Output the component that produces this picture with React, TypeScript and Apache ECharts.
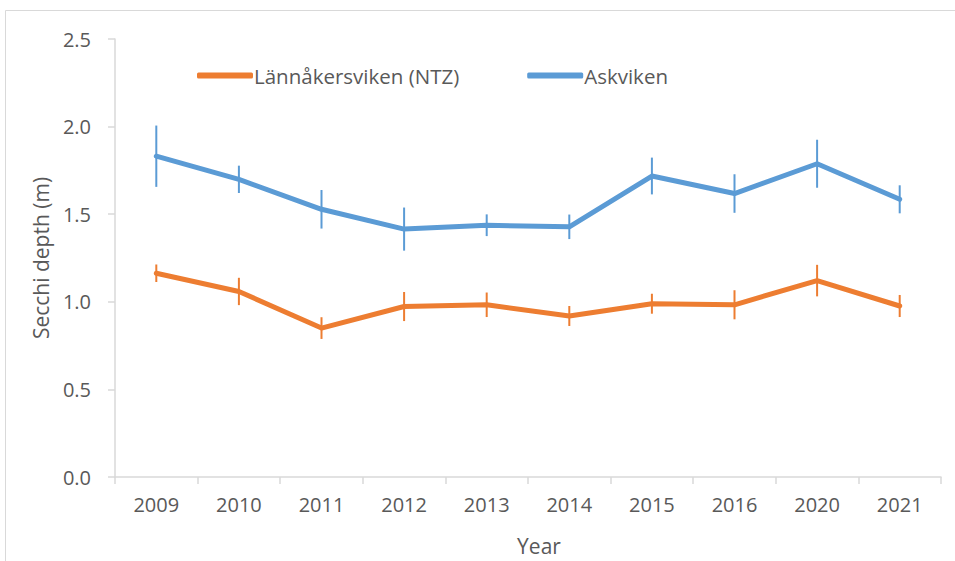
import React, { useEffect, useRef } from "react";
import * as echarts from "echarts";

const years = ["2009", "2010", "2011", "2012", "2013", "2014", "2015", "2016", "2020", "2021"];
const lannakersviken = [1.163, 1.059, 0.85, 0.973, 0.983, 0.919, 0.989, 0.983, 1.121, 0.976];
const lannakersvikenErr = [0.05, 0.078, 0.062, 0.083, 0.07, 0.057, 0.057, 0.083, 0.09, 0.063];
const askviken = [1.831, 1.699, 1.528, 1.415, 1.437, 1.428, 1.718, 1.618, 1.788, 1.585];
const askvikenErr = [0.175, 0.078, 0.11, 0.123, 0.062, 0.07, 0.105, 0.11, 0.137, 0.08];

const ORANGE = "#ED7D31";
const BLUE = "#5B9BD5";
const TEXT = "#595959";
const AXIS = "#D9D9D9";
const FONT = "'Open Sans', sans-serif";

function errData(vals: number[], errs: number[]) {
  return vals.map((v, i) => [i, v - errs[i], v + errs[i]]);
}

function errSeries(name: string, vals: number[], errs: number[], color: string) {
  return {
    type: "custom",
    name: name + " err",
    data: errData(vals, errs),
    z: 3,
    silent: true,
    renderItem: (params: any, api: any) => {
      const x = api.value(0);
      const lo = api.coord([x, api.value(1)]);
      const hi = api.coord([x, api.value(2)]);
      return {
        type: "line",
        shape: { x1: lo[0], y1: lo[1], x2: hi[0], y2: hi[1] },
        style: { stroke: color, lineWidth: 2 },
      };
    },
  };
}

export default function App() {
  const ref = useRef<HTMLDivElement>(null);
  useEffect(() => {
    if (!ref.current) return;
    const chart = echarts.init(ref.current, null, { renderer: "svg" });
    chart.setOption({
      animation: false,
      backgroundColor: "#fff",
      textStyle: { fontFamily: FONT },
      graphic: [
        {
          type: "rect",
          shape: { x: 5.5, y: 10.5, width: 1200, height: 1200 },
          style: { fill: "none", stroke: AXIS, lineWidth: 1 },
          silent: true,
        },
      ],
      grid: { left: 115, right: 14, top: 39, bottom: 82, containLabel: false },
      legend: {
        data: ["Lännåkersviken (NTZ)", "Askviken"],
        left: 192,
        top: 60,
        icon: "roundRect",
        itemWidth: 56,
        itemHeight: 6,
        itemGap: 68,
        textStyle: { color: TEXT, fontSize: 20.5, fontFamily: FONT, padding: [0, 0, 0, -4] },
      },
      xAxis: {
        type: "category",
        data: years,
        boundaryGap: true,
        axisLine: { show: true, lineStyle: { color: AXIS, width: 1.5 } },
        axisTick: { show: true, length: 7, lineStyle: { color: AXIS, width: 1.5 } },
        axisLabel: { color: TEXT, fontSize: 20, margin: 17, fontFamily: FONT },
        splitLine: { show: false },
        name: "Year",
        nameLocation: "middle",
        nameGap: 58,
        nameTextStyle: { color: TEXT, fontSize: 21, fontFamily: FONT, padding: [0, 0, 0, 22] },
      },
      yAxis: {
        type: "value",
        min: 0,
        max: 2.5,
        interval: 0.5,
        axisLine: { show: true, lineStyle: { color: AXIS, width: 1.5 } },
        axisTick: { show: true, length: 7, lineStyle: { color: AXIS, width: 1.5 } },
        axisLabel: {
          color: TEXT,
          fontSize: 20,
          margin: 24,
          fontFamily: FONT,
          formatter: (v: number) => v.toFixed(1),
        },
        splitLine: { show: false },
        name: "Secchi depth (m)",
        nameLocation: "middle",
        nameGap: 62,
        nameTextStyle: { color: TEXT, fontSize: 21, fontFamily: FONT },
      },
      series: [
        {
          type: "line",
          name: "Lännåkersviken (NTZ)",
          data: lannakersviken,
          color: ORANGE,
          showSymbol: false,
          symbol: "none",
          lineStyle: { width: 5, color: ORANGE, cap: "round", join: "round" },
          z: 4,
        },
        {
          type: "line",
          name: "Askviken",
          data: askviken,
          color: BLUE,
          showSymbol: false,
          symbol: "none",
          lineStyle: { width: 5, color: BLUE, cap: "round", join: "round" },
          z: 4,
        },
        errSeries("Lännåkersviken (NTZ)", lannakersviken, lannakersvikenErr, ORANGE),
        errSeries("Askviken", askviken, askvikenErr, BLUE),
      ],
    });
    return () => chart.dispose();
  }, []);
  return (
    <div
      ref={ref}
      style={{ position: "fixed", left: 0, top: 0, width: 955, height: 561 }}
    />
  );
}
